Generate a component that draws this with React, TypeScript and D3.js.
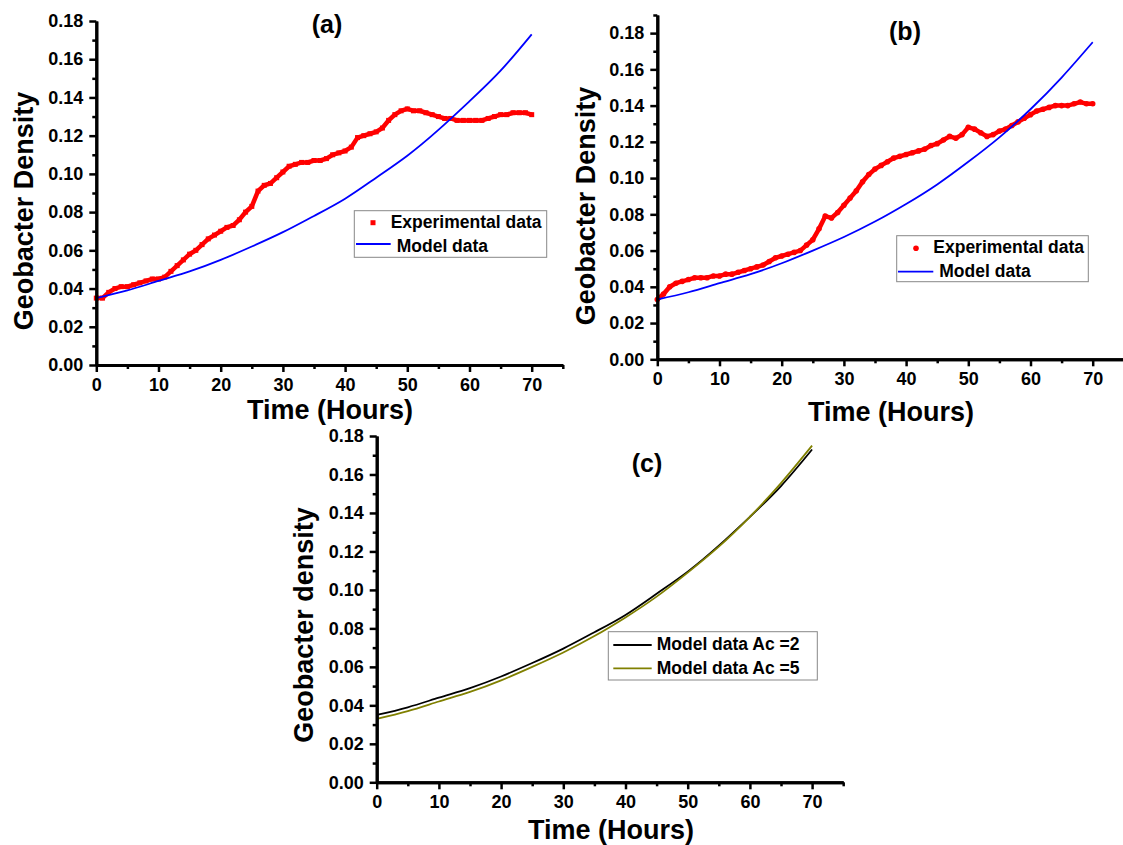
import React, { useEffect, useRef } from 'react';
import * as d3 from 'd3';

const FONT = '"Liberation Sans", Arial, sans-serif';

// hours for the experimental points (one reading per hour)
const expHours = d3.range(0, 71);
// hours for the model curves
const modelHours = [0, 5, 10, 15, 20, 25, 30, 35, 40, 45, 50, 55, 60, 65, 70];

const expA = [
  0.035, 0.035, 0.038, 0.040, 0.041, 0.041, 0.042, 0.043, 0.044, 0.045, 0.045,
  0.046, 0.049, 0.052, 0.055, 0.058, 0.060, 0.063, 0.066, 0.068, 0.070,
  0.072, 0.073, 0.076, 0.080, 0.083, 0.091, 0.094, 0.095, 0.098, 0.101,
  0.104, 0.105, 0.106, 0.106, 0.107, 0.107, 0.108, 0.110, 0.111, 0.112,
  0.114, 0.119, 0.120, 0.121, 0.122, 0.124, 0.128, 0.131, 0.133, 0.134,
  0.133, 0.133, 0.132, 0.131, 0.130, 0.129, 0.129, 0.128, 0.128, 0.128,
  0.128, 0.128, 0.129, 0.130, 0.131, 0.131, 0.132, 0.132, 0.132, 0.131,
];

const expB = [
  0.033, 0.036, 0.040, 0.042, 0.043, 0.044, 0.045, 0.045, 0.045, 0.046, 0.046,
  0.047, 0.047, 0.048, 0.049, 0.050, 0.051, 0.052, 0.054, 0.056, 0.057,
  0.058, 0.059, 0.060, 0.063, 0.066, 0.072, 0.079, 0.078, 0.081, 0.085,
  0.089, 0.093, 0.098, 0.102, 0.105, 0.107, 0.109, 0.111, 0.112, 0.113,
  0.114, 0.115, 0.116, 0.118, 0.119, 0.121, 0.123, 0.122, 0.124, 0.128,
  0.127, 0.125, 0.123, 0.124, 0.126, 0.127, 0.129, 0.131, 0.133, 0.135,
  0.137, 0.138, 0.139, 0.140, 0.140, 0.140, 0.141, 0.142, 0.141, 0.141,
];

// model, Ac = 2 (panel a, black in c)
const modelA = [0.035, 0.039, 0.044, 0.049, 0.055, 0.062, 0.0695, 0.078, 0.087, 0.098, 0.1095, 0.123, 0.138, 0.154, 0.173];
// model, Ac = 5 (panel b, olive in c)
const modelB = [0.033, 0.037, 0.042, 0.047, 0.053, 0.060, 0.0675, 0.076, 0.0857, 0.0965, 0.109, 0.1225, 0.138, 0.1555, 0.175];

const xMajor = [0, 10, 20, 30, 40, 50, 60, 70];
const xMinor = [5, 15, 25, 35, 45, 55, 65, 75];
const yMajor = [0, 0.02, 0.04, 0.06, 0.08, 0.1, 0.12, 0.14, 0.16, 0.18];
const yMinor = [0.01, 0.03, 0.05, 0.07, 0.09, 0.11, 0.13, 0.15, 0.17, 0.19];

const panels = [
  {
    id: 'a', left: 96.3, bottom: 365, top: 21, yMax: 0.18,
    tag: '(a)', tagX: 327, tagY: 33,
    yTitle: 'Geobacter Density', yTitleX: 33, yTitleY: 211,
    xTitleX: 330, xTitleY: 419,
  },
  {
    id: 'b', left: 657.3, bottom: 359.3, top: 15, yMax: 0.19,
    tag: '(b)', tagX: 905, tagY: 40,
    yTitle: 'Geobacter Density', yTitleX: 595, yTitleY: 206,
    xTitleX: 891, xTitleY: 421,
  },
  {
    id: 'c', left: 376.7, bottom: 782.3, top: 436, yMax: 0.18,
    tag: '(c)', tagX: 647, tagY: 472,
    yTitle: 'Geobacter density', yTitleX: 313, yTitleY: 625,
    xTitleX: 611, xTitleY: 839,
  },
];

function AxisG({ axis, transform }: { axis: any; transform: string }) {
  const ref = useRef<SVGGElement>(null);
  useEffect(() => {
    const g = d3.select(ref.current);
    g.call(axis);
    g.attr('font-size', 18).attr('font-family', FONT).attr('font-weight', 'bold');
    g.selectAll('.domain').attr('stroke-width', 3).attr('stroke', '#000');
    g.selectAll('.tick line').attr('stroke-width', 2.5).attr('stroke', '#000');
    g.selectAll('.tick text').attr('fill', '#000');
  });
  return <g ref={ref} transform={transform} />;
}

function Panel({ p }: { p: any }) {
  const x = d3.scaleLinear().domain([0, 75]).range([p.left, p.left + 466.5]);
  const y = d3.scaleLinear().domain([0, p.yMax]).range([p.bottom, p.top]);

  const xAxis = d3.axisBottom(x).tickValues(xMajor).tickFormat(d3.format('d')).tickSize(7).tickPadding(6).tickSizeOuter(0);
  const xAxisMinor = d3.axisBottom(x).tickValues(xMinor).tickFormat(() => '').tickSize(4).tickSizeOuter(0);
  const yAxis = d3.axisLeft(y).tickValues(yMajor).tickFormat(d3.format('.2f')).tickSize(7).tickPadding(6).tickSizeOuter(0);
  const yAxisMinor = d3.axisLeft(y)
    .tickValues(yMinor.filter(v => v <= p.yMax + 1e-9))
    .tickFormat(() => '').tickSize(4).tickSizeOuter(0);

  const line = d3.line<number>().x((_, i) => x(modelHours[i])).y(d => y(d)).curve(d3.curveNatural);
  const expLine = d3.line<number>().x((_, i) => x(expHours[i])).y(d => y(d));

  return (
    <g>
      {p.id === 'a' && (
        <g>
          <path d={expLine(expA) || ''} fill="none" stroke="#ff0000" strokeWidth={4.5} />
          {expA.map((v, i) => (
            <rect key={i} x={x(expHours[i]) - 2.5} y={y(v) - 2.5} width={5} height={5} fill="#ff0000" />
          ))}
          <path d={line(modelA) || ''} fill="none" stroke="#0000ff" strokeWidth={1.8} />
        </g>
      )}
      {p.id === 'b' && (
        <g>
          <path d={expLine(expB) || ''} fill="none" stroke="#ff0000" strokeWidth={4.5} strokeLinecap="round" />
          {expB.map((v, i) => (
            <circle key={i} cx={x(expHours[i])} cy={y(v)} r={2.8} fill="#ff0000" />
          ))}
          <path d={line(modelB) || ''} fill="none" stroke="#0000ff" strokeWidth={1.8} />
        </g>
      )}
      {p.id === 'c' && (
        <g>
          <path d={line(modelA) || ''} fill="none" stroke="#000000" strokeWidth={1.8} />
          <path d={line(modelB) || ''} fill="none" stroke="#808000" strokeWidth={1.8} />
        </g>
      )}

      <AxisG axis={xAxisMinor} transform={`translate(0,${p.bottom})`} />
      <AxisG axis={xAxis} transform={`translate(0,${p.bottom})`} />
      <AxisG axis={yAxisMinor} transform={`translate(${p.left},0)`} />
      <AxisG axis={yAxis} transform={`translate(${p.left},0)`} />

      <text x={p.tagX} y={p.tagY} textAnchor="middle" fontFamily={FONT} fontWeight="bold" fontSize={25}>{p.tag}</text>
      <text x={p.xTitleX} y={p.xTitleY} textAnchor="middle" fontFamily={FONT} fontWeight="bold" fontSize={27}>Time (Hours)</text>
      <text
        transform={`translate(${p.yTitleX},${p.yTitleY}) rotate(-90)`}
        textAnchor="middle" fontFamily={FONT} fontWeight="bold" fontSize={27}
      >
        {p.yTitle}
      </text>
    </g>
  );
}

function Legends() {
  const t = { fontFamily: FONT, fontWeight: 'bold' as const, fontSize: 17.5 };
  return (
    <g>
      {/* (a) */}
      <rect x={354.3} y={210.7} width={192.4} height={46.6} fill="#fff" stroke="#888" strokeWidth={1} />
      <rect x={370.5} y={220.2} width={5} height={5} fill="#ff0000" />
      <text x={390.7} y={228.3} {...t}>Experimental data</text>
      <line x1={356} x2={390.7} y1={244} y2={244} stroke="#0000ff" strokeWidth={1.8} />
      <text x={396.7} y={251.7} {...t}>Model data</text>

      {/* (b) */}
      <rect x={896.7} y={235.7} width={191.6} height={46} fill="#fff" stroke="#888" strokeWidth={1} />
      <circle cx={916} cy={248.3} r={2.8} fill="#ff0000" />
      <text x={933.3} y={253.3} {...t}>Experimental data</text>
      <line x1={898} x2={933.3} y1={271.7} y2={271.7} stroke="#0000ff" strokeWidth={1.8} />
      <text x={939.3} y={276.7} {...t}>Model data</text>

      {/* (c) */}
      <rect x={608.3} y={631.7} width={209} height={48.3} fill="#fff" stroke="#888" strokeWidth={1} />
      <line x1={613.3} x2={651.7} y1={645} y2={645} stroke="#000" strokeWidth={1.8} />
      <text x={656.7} y={650} {...t}>Model data Ac =2</text>
      <line x1={613.3} x2={651.7} y1={668.3} y2={668.3} stroke="#808000" strokeWidth={1.8} />
      <text x={656.7} y={674} {...t}>Model data Ac =5</text>
    </g>
  );
}

export default function App() {
  return (
    <svg width={1123} height={845} style={{ position: 'absolute', left: 0, top: 0, background: '#fff' }}>
      <rect width={1123} height={845} fill="#fff" />
      {panels.map(p => <Panel key={p.id} p={p} />)}
      <Legends />
    </svg>
  );
}
